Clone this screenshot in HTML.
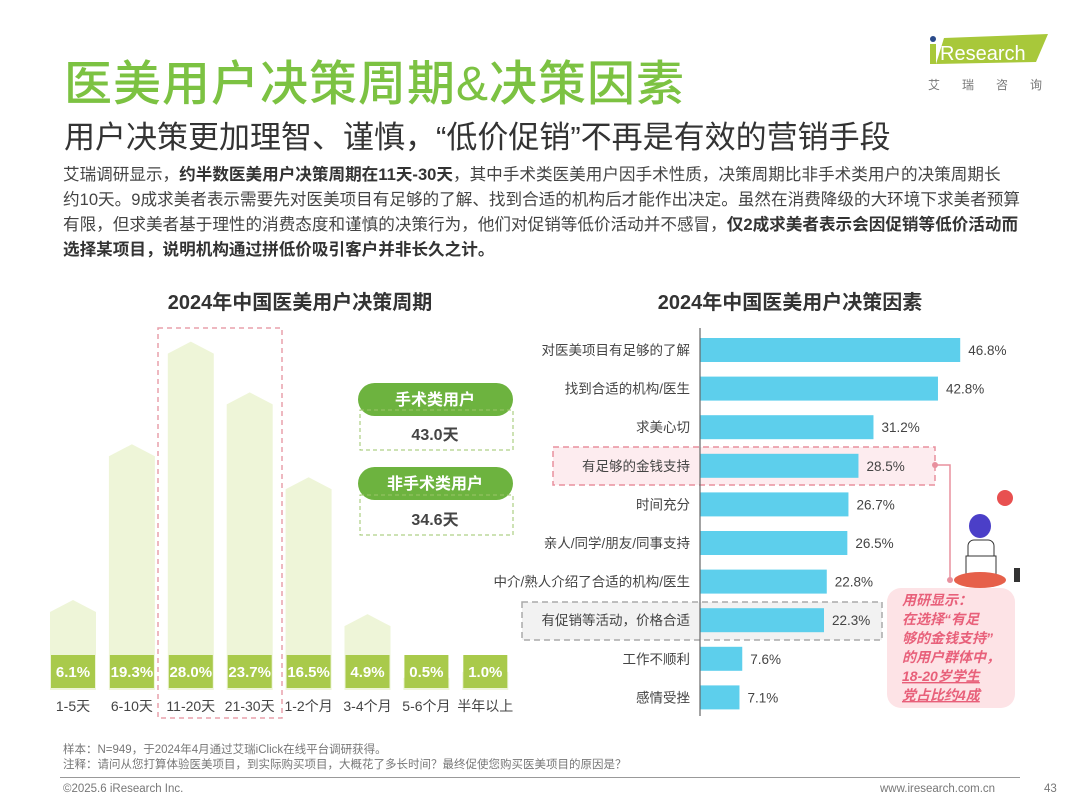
<!DOCTYPE html>
<html><head><meta charset="utf-8">
<style>
*{margin:0;padding:0;box-sizing:border-box}
body{width:1080px;height:810px;background:#fff;position:relative;overflow:hidden;font-family:"Liberation Sans","Noto Sans CJK SC",sans-serif;color:#333}
.abs{position:absolute}
.para{left:63px;top:162px;width:1010px;font-size:16.6px;line-height:25px;color:#444;white-space:nowrap}
.para b{color:#333}
</style></head><body>
<div class="abs" style="left:64px;top:44px;font-size:48px;color:#7cc242;font-weight:500;letter-spacing:1px">医美用户决策周期&amp;决策因素</div>
<div class="abs" style="left:64px;top:112px;font-size:31px;color:#333">用户决策更加理智、谨慎，“低价促销”不再是有效的营销手段</div>
<div class="abs" style="left:924px;top:32px;width:130px;height:60px">
 <svg width="130" height="60"><polygon points="20,6 124,2 112,30 12,32" fill="#a8c83a"/><circle cx="9" cy="7" r="3" fill="#2a4a8a"/><rect x="6" y="12" width="6" height="20" fill="#a8c83a"/>
 <text x="16" y="28" font-size="20" fill="#fff" font-family="Liberation Sans">Research</text>
 <text x="4" y="57" font-size="12" fill="#777" letter-spacing="22">艾瑞咨询</text></svg>
</div>
<div class="abs para">艾瑞调研显示，<b>约半数医美用户决策周期在11天-30天</b>，其中手术类医美用户因手术性质，决策周期比非手术类用户的决策周期长<br>约10天。9成求美者表示需要先对医美项目有足够的了解、找到合适的机构后才能作出决定。虽然在消费降级的大环境下求美者预算<br>有限，但求美者基于理性的消费态度和谨慎的决策行为，他们对促销等低价活动并不感冒，<b>仅2成求美者表示会因促销等低价活动而</b><br><b>选择某项目，说明机构通过拼低价吸引客户并非长久之计。</b></div>

<div class="abs" style="left:40px;top:286px;width:520px;text-align:center;font-size:20px;font-weight:bold;color:#333">2024年中国医美用户决策周期</div>
<div class="abs" style="left:560px;top:286px;width:460px;text-align:center;font-size:20px;font-weight:bold;color:#333">2024年中国医美用户决策因素</div>

<svg class="abs" style="left:0;top:0" width="1080" height="810" id="chart">
 <rect x="158" y="328" width="124" height="390" fill="none" stroke="#e8a0ac" stroke-width="1.5" stroke-dasharray="5,4"/>
 <g id="left"></g>
 <g id="badges">
  <rect x="358" y="383" width="155" height="33" rx="16.5" fill="#6db33f"/>
  <text x="435" y="405" text-anchor="middle" font-size="16" font-weight="bold" fill="#fff">手术类用户</text>
  <rect x="360" y="410" width="153" height="40" fill="none" stroke="#9bc46a" stroke-dasharray="4,3"/>
  <text x="435" y="440" text-anchor="middle" font-size="16" font-weight="bold" fill="#444">43.0天</text>
  <rect x="358" y="467" width="155" height="33" rx="16.5" fill="#6db33f"/>
  <text x="435" y="489" text-anchor="middle" font-size="16" font-weight="bold" fill="#fff">非手术类用户</text>
  <rect x="360" y="495" width="153" height="40" fill="none" stroke="#9bc46a" stroke-dasharray="4,3"/>
  <text x="435" y="525" text-anchor="middle" font-size="16" font-weight="bold" fill="#444">34.6天</text>
 </g>
 <rect x="553" y="447" width="382" height="38" fill="#fdecef" stroke="#e8909e" stroke-width="1.5" stroke-dasharray="6,4"/>
 <rect x="522" y="602" width="360" height="38" fill="#f2f2f2" stroke="#aaa" stroke-width="1.5" stroke-dasharray="6,4"/>
 <g id="right"></g>
 <line x1="700" y1="328" x2="700" y2="716" stroke="#666" stroke-width="1.2"/>
 <path d="M935,465 H950 V580" stroke="#e8909e" stroke-width="1.5" fill="none"/>
 <circle cx="935" cy="465" r="3" fill="#e8909e"/><circle cx="950" cy="580" r="3" fill="#e8909e"/>
 <g>
  <circle cx="1005" cy="498" r="8" fill="#e85050"/>
  <ellipse cx="980" cy="526" rx="11" ry="12" fill="#4b3fc8"/>
  <rect x="968" y="540" width="26" height="26" rx="6" fill="#fff" stroke="#333"/>
  <rect x="966" y="556" width="30" height="20" fill="#fff" stroke="#333"/>
  <ellipse cx="980" cy="580" rx="26" ry="8" fill="#e6604a"/>
  <rect x="1014" y="568" width="6" height="14" fill="#333"/>
 </g>
 <rect x="887" y="588" width="128" height="120" rx="14" fill="#fde3e6"/>
 <g font-size="14" font-weight="bold" font-style="italic" fill="#e8607a">
  <text x="902" y="605">用研显示：</text>
  <text x="902" y="624">在选择“有足</text>
  <text x="902" y="643">够的金钱支持”</text>
  <text x="902" y="662">的用户群体中，</text>
  <text x="902" y="681" text-decoration="underline">18-20岁学生</text>
  <text x="902" y="700" text-decoration="underline">党占比约4成</text>
 </g>
</svg>

<div class="abs" style="left:63px;top:743px;font-size:11.5px;line-height:15px;color:#777">样本：N=949，于2024年4月通过艾瑞iClick在线平台调研获得。<br>注释：请问从您打算体验医美项目，到实际购买项目，大概花了多长时间？最终促使您购买医美项目的原因是？</div>
<div class="abs" style="left:60px;top:777px;width:960px;height:1px;background:#999"></div>
<div class="abs" style="left:63px;top:783px;font-size:11.5px;color:#777">©2025.6 iResearch Inc.</div>
<div class="abs" style="left:880px;top:783px;font-size:11.5px;color:#777">www.iresearch.com.cn</div>
<div class="abs" style="left:1044px;top:783px;font-size:11.5px;color:#777">43</div>

<script>
const cycleCats=["1-5天","6-10天","11-20天","21-30天","1-2个月","3-4个月","5-6个月","半年以上"];
const cycleVals=[6.1,19.3,28.0,23.7,16.5,4.9,0.5,1.0];
const factorCats=["对医美项目有足够的了解","找到合适的机构/医生","求美心切","有足够的金钱支持","时间充分","亲人/同学/朋友/同事支持","中介/熟人介绍了合适的机构/医生","有促销等活动，价格合适","工作不顺利","感情受挫"];
const factorVals=[46.8,42.8,31.2,28.5,26.7,26.5,22.8,22.3,7.6,7.1];
const NS="http://www.w3.org/2000/svg";
function mk(tag,attrs,parent){const e=document.createElementNS(NS,tag);for(const k in attrs)e.setAttribute(k,attrs[k]);parent.appendChild(e);return e;}
const L=document.getElementById('left');
const lx=i=>73+i*58.9, ly=v=>672-v*11.8;
cycleVals.forEach((v,i)=>{
 const cx=lx(i),w=46,top=ly(v),base=690;
 const p=mk('polygon',{points:`${cx-w/2},${base} ${cx-w/2},${top+12} ${cx},${top} ${cx+w/2},${top+12} ${cx+w/2},${base}`,fill:'#eef5d8'},L);
 
 
 const r=mk('rect',{x:cx-22,y:655,width:44,height:33,fill:'#a9ca4b'},L);
 
 
 const t=mk('text',{x:cx,y:677,'text-anchor':'middle','font-size':15,'font-weight':'bold',fill:'#fff'},L);t.textContent=v.toFixed(1)+'%';
 
 
 const c=mk('text',{x:cx,y:711,'text-anchor':'middle','font-size':14,fill:'#444'},L);c.textContent=cycleCats[i];
 
 
});
const R=document.getElementById('right');
const rx=v=>v*5.56, ry=i=>350+i*38.6;
factorVals.forEach((v,i)=>{
 const y=ry(i);
 const b=mk('rect',{x:700,y:y-12,width:rx(v),height:24,fill:'#5dcfec'},R);
 
 
 const t=mk('text',{x:700+rx(v)+8,y:y+5,'font-size':13.5,fill:'#444'},R);t.textContent=v.toFixed(1)+'%';
 
 
 const c=mk('text',{x:690,y:y+5,'text-anchor':'end','font-size':13.5,fill:'#444'},R);c.textContent=factorCats[i];
 
 
});
</script>
</body></html>
